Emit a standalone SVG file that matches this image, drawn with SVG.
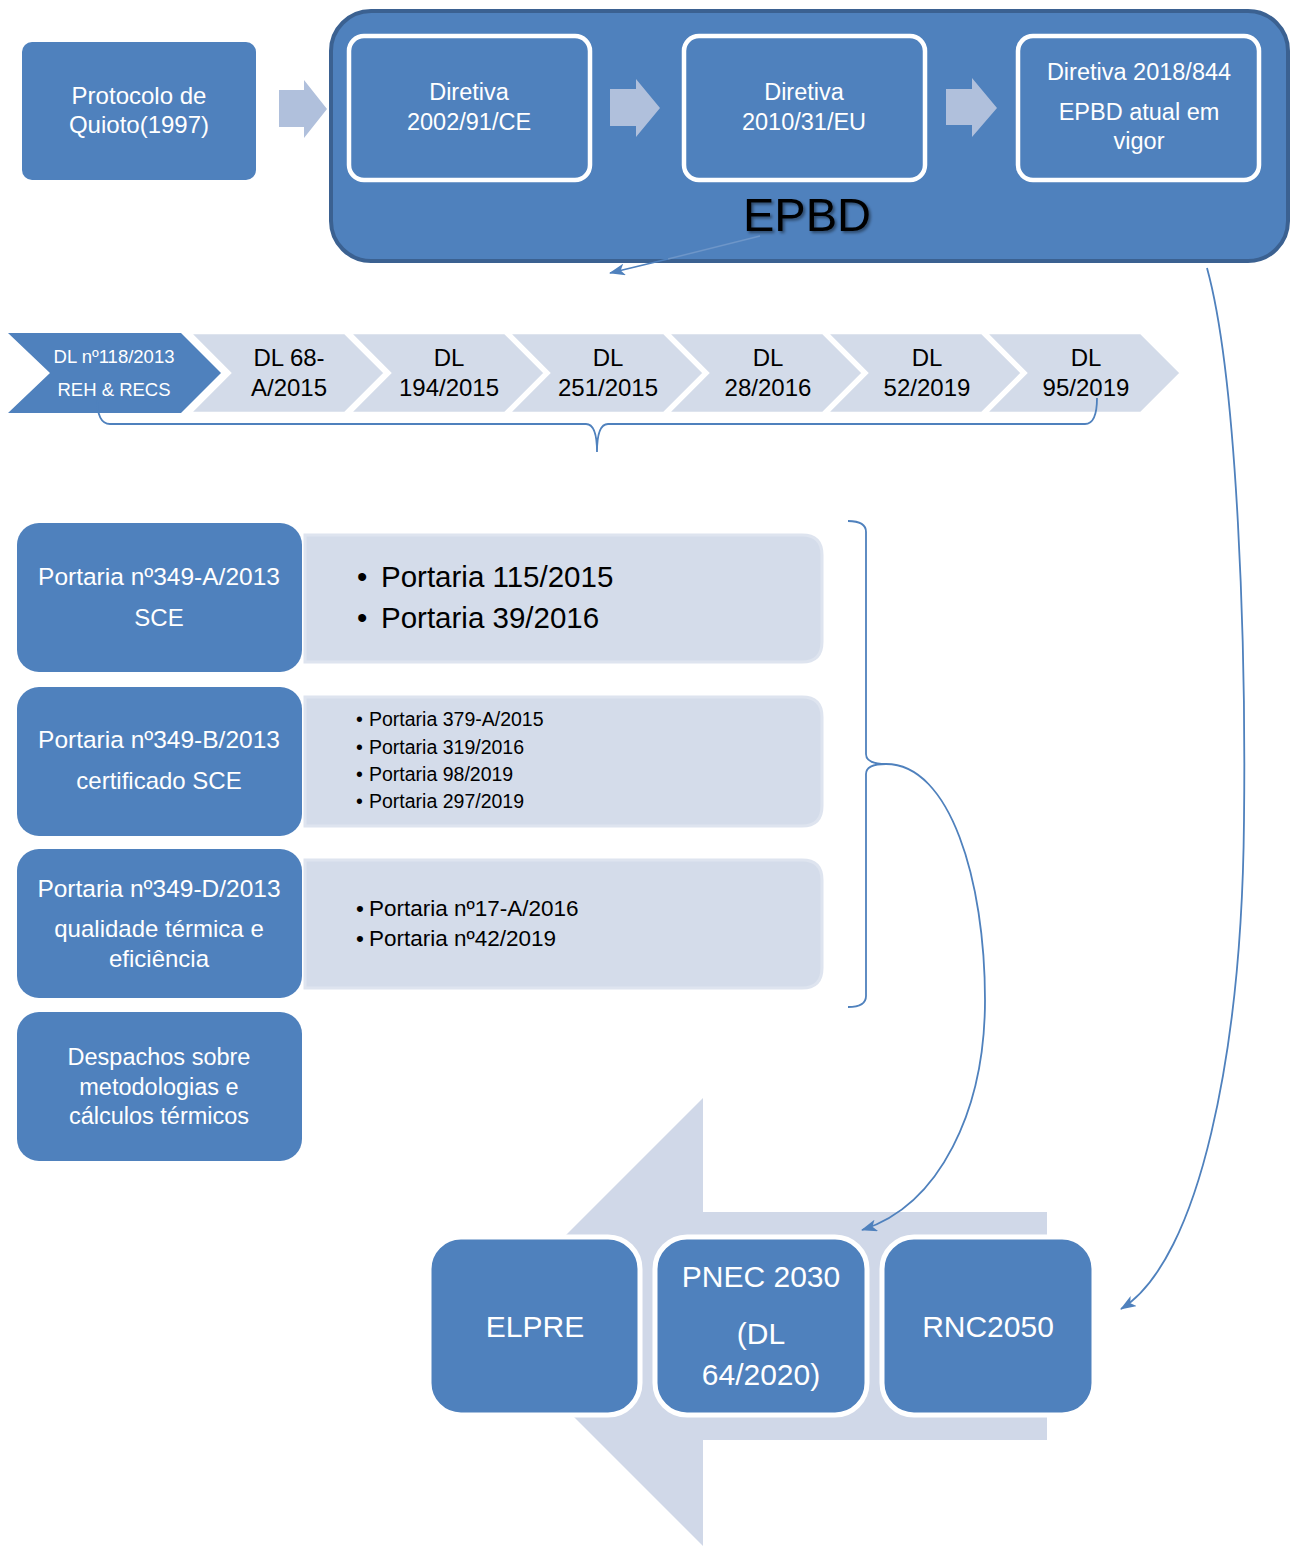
<svg xmlns="http://www.w3.org/2000/svg" width="1296" height="1546" viewBox="0 0 1296 1546">
  <defs>
    <style>
      text { font-family: "Liberation Sans", Arial, sans-serif; }
      .dark { fill: #4F81BD; }
      .wt { fill: #FFFFFF; text-anchor: middle; }
      .bk { fill: #000000; text-anchor: middle; }
      .bl { fill: #000000; }
      .inner { fill: #4F81BD; stroke: #FFFFFF; stroke-width: 4.5; }
      .step { fill: #B0C0DC; }
      .chev { fill: #D3DBE9; stroke: #FFFFFF; stroke-width: 2.5; }
      .lite { fill: #D4DCEA; stroke: #DEE4EF; stroke-width: 3; }
      .goal { fill: #4F81BD; stroke: #FFFFFF; stroke-width: 5; }
      .link { fill: none; stroke: #4F81BD; stroke-width: 1.8; }
    </style>
    <marker id="tip" viewBox="0 0 16 12" refX="15" refY="6" markerWidth="16" markerHeight="12" markerUnits="userSpaceOnUse" orient="auto">
      <path d="M0,0 L16,6 L0,12 L4,6 Z" fill="#4F81BD"/>
    </marker>
    <filter id="shade" x="-10%" y="-20%" width="130%" height="150%">
      <feDropShadow dx="2" dy="2" stdDeviation="1.6" flood-color="#000000" flood-opacity="0.45"/>
    </filter>
  </defs>

  <!-- origin: Kyoto protocol -->
  <g id="quioto">
    <rect class="dark" x="22" y="42" width="234" height="138" rx="10"/>
    <text class="wt" font-size="24" x="139" y="104">Protocolo de</text>
    <text class="wt" font-size="24" x="139" y="133">Quioto(1997)</text>
  </g>

  <g id="step-arrow-1">
    <polygon class="step" points="279,90 304,90 304,80 327,109 304,138 304,127 279,127"/>
  </g>

  <!-- EPBD container with its three directives -->
  <g id="epbd">
    <rect x="331" y="11" width="957" height="250" rx="40" fill="#4F81BD" stroke="#3B6191" stroke-width="4"/>
    <text class="bk" font-size="47" x="807" y="231" filter="url(#shade)">EPBD</text>
  </g>

  <g id="diretiva-2002">
    <rect class="inner" x="349" y="36" width="241" height="144" rx="15"/>
    <text class="wt" font-size="23.5" x="469" y="100">Diretiva</text>
    <text class="wt" font-size="23.5" x="469" y="130">2002/91/CE</text>
  </g>

  <g id="step-arrow-2">
    <polygon class="step" points="610,89 636,89 636,79 660,108 636,137 636,126 610,126"/>
  </g>

  <g id="diretiva-2010">
    <rect class="inner" x="684" y="36" width="241" height="144" rx="15"/>
    <text class="wt" font-size="23.5" x="804" y="100">Diretiva</text>
    <text class="wt" font-size="23.5" x="804" y="130">2010/31/EU</text>
  </g>

  <g id="step-arrow-3">
    <polygon class="step" points="946,89 972,89 972,78 997,108 972,137 972,125 946,125"/>
  </g>

  <g id="diretiva-2018">
    <rect class="inner" x="1018" y="36" width="241" height="144" rx="15"/>
    <text class="wt" font-size="23.5" x="1139" y="80">Diretiva 2018/844</text>
    <text class="wt" font-size="23.5" x="1139" y="120">EPBD atual em</text>
    <text class="wt" font-size="23.5" x="1139" y="149">vigor</text>
  </g>

  <!-- decree-law chevron timeline -->
  <g id="dl-118">
    <polygon class="dark" points="8,333 181,333 221,373 181,413 8,413 50,373"/>
    <text class="wt" font-size="18.5" x="114" y="363">DL nº118/2013</text>
    <text class="wt" font-size="18.5" x="114" y="396">REH &amp; RECS</text>
  </g>
  <g id="dl-68a">
    <polygon class="chev" points="190,333 345,333 385,373 345,413 190,413 230,373"/>
    <text class="bk" font-size="24" x="289" y="366">DL 68-</text>
    <text class="bk" font-size="24" x="289" y="396">A/2015</text>
  </g>
  <g id="dl-194">
    <polygon class="chev" points="350,333 505,333 545,373 505,413 350,413 390,373"/>
    <text class="bk" font-size="24" x="449" y="366">DL</text>
    <text class="bk" font-size="24" x="449" y="396">194/2015</text>
  </g>
  <g id="dl-251">
    <polygon class="chev" points="509,333 664,333 704,373 664,413 509,413 549,373"/>
    <text class="bk" font-size="24" x="608" y="366">DL</text>
    <text class="bk" font-size="24" x="608" y="396">251/2015</text>
  </g>
  <g id="dl-28">
    <polygon class="chev" points="668,333 823,333 863,373 823,413 668,413 708,373"/>
    <text class="bk" font-size="24" x="768" y="366">DL</text>
    <text class="bk" font-size="24" x="768" y="396">28/2016</text>
  </g>
  <g id="dl-52">
    <polygon class="chev" points="827,333 982,333 1022,373 982,413 827,413 867,373"/>
    <text class="bk" font-size="24" x="927" y="366">DL</text>
    <text class="bk" font-size="24" x="927" y="396">52/2019</text>
  </g>
  <g id="dl-95">
    <polygon class="chev" points="986,333 1141,333 1181,373 1141,413 986,413 1026,373"/>
    <text class="bk" font-size="24" x="1086" y="366">DL</text>
    <text class="bk" font-size="24" x="1086" y="396">95/2019</text>
  </g>

  <!-- ordinances: main ordinance on the left, amendments on the right -->
  <g id="portaria-349a">
    <path class="lite" d="M305,535 H802 Q822,535 822,555 V642 Q822,662 802,662 H305 Z"/>
    <rect class="dark" x="17" y="523" width="285" height="149" rx="22"/>
    <text class="wt" font-size="24.5" x="159" y="585">Portaria nº349-A/2013</text>
    <text class="wt" font-size="24" x="159" y="626">SCE</text>
    <text class="bl" font-size="29.5"><tspan x="357" y="587">•</tspan><tspan x="381" y="587">Portaria 115/2015</tspan></text>
    <text class="bl" font-size="29.5"><tspan x="357" y="628">•</tspan><tspan x="381" y="628">Portaria 39/2016</tspan></text>
  </g>

  <g id="portaria-349b">
    <path class="lite" d="M305,697 H802 Q822,697 822,717 V806 Q822,826 802,826 H305 Z"/>
    <rect class="dark" x="17" y="687" width="285" height="149" rx="22"/>
    <text class="wt" font-size="24.5" x="159" y="748">Portaria nº349-B/2013</text>
    <text class="wt" font-size="24" x="159" y="789">certificado SCE</text>
    <text class="bl" font-size="19.5"><tspan x="356" y="726">•</tspan><tspan x="369" y="726">Portaria 379-A/2015</tspan></text>
    <text class="bl" font-size="19.5"><tspan x="356" y="754">•</tspan><tspan x="369" y="754">Portaria 319/2016</tspan></text>
    <text class="bl" font-size="19.5"><tspan x="356" y="781">•</tspan><tspan x="369" y="781">Portaria 98/2019</tspan></text>
    <text class="bl" font-size="19.5"><tspan x="356" y="808">•</tspan><tspan x="369" y="808">Portaria 297/2019</tspan></text>
  </g>

  <g id="portaria-349d">
    <path class="lite" d="M305,860 H802 Q822,860 822,880 V968 Q822,988 802,988 H305 Z"/>
    <rect class="dark" x="17" y="849" width="285" height="149" rx="22"/>
    <text class="wt" font-size="24.5" x="159" y="897">Portaria nº349-D/2013</text>
    <text class="wt" font-size="24" x="159" y="937">qualidade térmica e</text>
    <text class="wt" font-size="24" x="159" y="967">eficiência</text>
    <text class="bl" font-size="22.5"><tspan x="356" y="916">•</tspan><tspan x="369" y="916">Portaria nº17-A/2016</tspan></text>
    <text class="bl" font-size="22.5"><tspan x="356" y="946">•</tspan><tspan x="369" y="946">Portaria nº42/2019</tspan></text>
  </g>

  <g id="despachos">
    <rect class="dark" x="17" y="1012" width="285" height="149" rx="22"/>
    <text class="wt" font-size="23.5" x="159" y="1065">Despachos sobre</text>
    <text class="wt" font-size="23.5" x="159" y="1095">metodologias e</text>
    <text class="wt" font-size="23.5" x="159" y="1124">cálculos térmicos</text>
  </g>

  <!-- national strategy targets over a large backward arrow -->
  <g id="strategy-arrow">
    <polygon fill="#D0D8E8" points="1047,1212 703,1212 703,1098 479,1322 703,1546 703,1440 1047,1440"/>
  </g>
  <g id="elpre">
    <rect class="goal" x="429" y="1237" width="211" height="178" rx="32"/>
    <text class="wt" font-size="30" x="535" y="1337">ELPRE</text>
  </g>
  <g id="pnec">
    <rect class="goal" x="655" y="1237" width="212" height="178" rx="32"/>
    <text class="wt" font-size="30" x="761" y="1287">PNEC 2030</text>
    <text class="wt" font-size="30" x="761" y="1344">(DL</text>
    <text class="wt" font-size="30" x="761" y="1385">64/2020)</text>
  </g>
  <g id="rnc">
    <rect class="goal" x="882" y="1237" width="212" height="178" rx="32"/>
    <text class="wt" font-size="30" x="988" y="1337">RNC2050</text>
  </g>

  <!-- braces and connectors -->
  <g id="connectors">
    <path d="M760,236 L668,259" fill="none" stroke="#6E96C8" stroke-width="1.5"/>
    <path class="link" d="M668,259 L610,273" marker-end="url(#tip)"/>
    <path class="link" d="M97,398 Q97,424 110,424 L586,424 Q597,424 597,452 M597,452 Q597,424 608,424 L1085,424 Q1097,424 1097,398"/>
    <path class="link" d="M848,521 Q866,521 866,532 L866,754 Q866,764 886,764 Q866,764 866,774 L866,996 Q866,1007 848,1007"/>
    <path class="link" d="M886,764 C950,764 985,880 985,1000 C985,1110 940,1205 862,1230" marker-end="url(#tip)"/>
    <path class="link" d="M1207,268 C1238,380 1246,650 1244,820 C1242,1050 1200,1260 1121,1309" marker-end="url(#tip)"/>
  </g>
</svg>
